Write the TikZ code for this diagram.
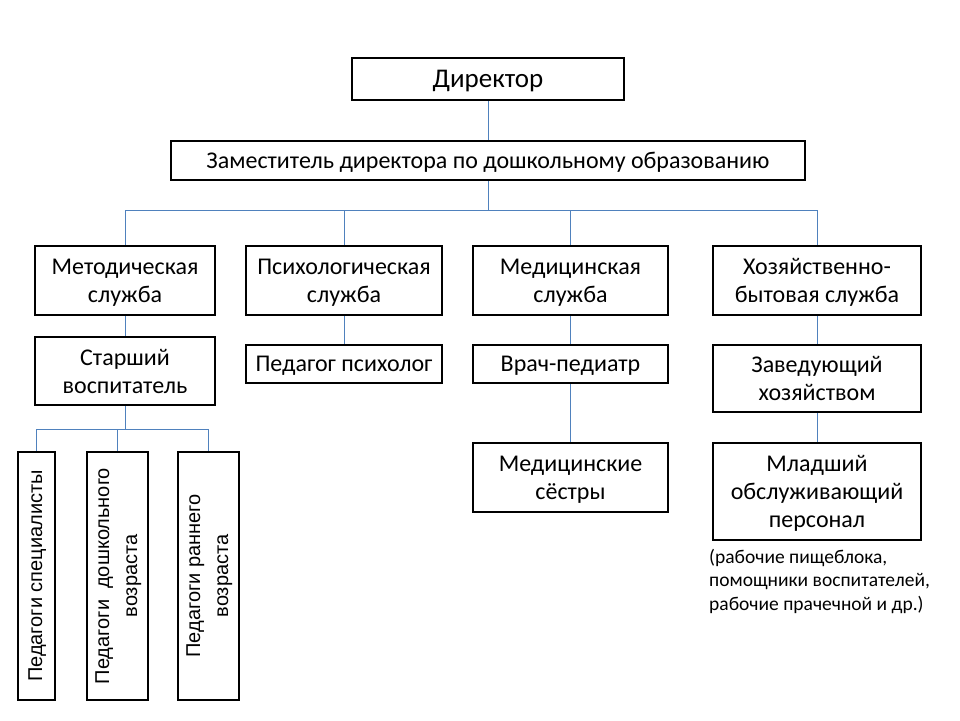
\documentclass[tikz,border=0pt]{standalone}
\usepackage{fontspec}
\setmainfont{Carlito}
\newfontfamily\arialfont{Liberation Sans}
\usepackage{graphicx}
\usetikzlibrary{positioning}
\definecolor{linkblue}{RGB}{79,129,189}
\tikzset{
  orgbox/.style={draw=black,line width=2.6pt,inner sep=0pt,align=center,text depth=0pt,
    font=\fontsize{24}{28}\selectfont},
  vbox/.style={orgbox,minimum height=248pt,font=\arialfont\fontsize{20}{28}\selectfont},
  link/.style={draw=linkblue,line width=1pt},
  notetext/.style={align=left,anchor=north west,inner sep=0pt,font=\fontsize{19.5}{23.5}\selectfont}
}
\newcommand{\vtext}[1]{\rotatebox{90}{\begin{tabular}{@{}c@{}}#1\end{tabular}}}

\begin{document}
\begin{tikzpicture}[x=1pt,y=-1pt]
  \useasboundingbox (0,0) rectangle (960,720);
  \fill[white] (0,0) rectangle (960,720);
  % top
  \node[orgbox,minimum width=272pt,minimum height=42pt,font=\fontsize{27}{30}\selectfont] (dir) at (488,79) {Директор};
  \node[orgbox,minimum width=634pt,minimum height=39pt] (zam) at (488,160.5) {Заместитель директора по дошкольному образованию};
  % services
  \node[orgbox,minimum width=180pt,minimum height=69pt] (met) at (125,280.5) {Методическая\\служба};
  \node[orgbox,minimum width=196pt,minimum height=69pt] (psy) at (344,280.5) {Психологическая\\служба};
  \node[orgbox,minimum width=195pt,minimum height=69pt] (med) at (570.5,280.5) {Медицинская\\служба};
  \node[orgbox,minimum width=208pt,minimum height=69pt] (hoz) at (817,280.5) {Хозяйственно-\\бытовая служба};
  % staff
  \node[orgbox,minimum width=180pt,minimum height=68pt] (star) at (125,371) {Старший\\воспитатель};
  \node[orgbox,minimum width=196pt,minimum height=38pt] (pedpsy) at (344,364) {Педагог психолог};
  \node[orgbox,minimum width=195pt,minimum height=38pt] (vrach) at (570.5,364) {Врач-педиатр};
  \node[orgbox,minimum width=208pt,minimum height=67pt] (zav) at (817,378.5) {Заведующий\\хозяйством};
  \node[orgbox,minimum width=195pt,minimum height=69pt] (sest) at (570.5,477.5) {Медицинские\\сёстры};
  \node[orgbox,minimum width=208pt,minimum height=97pt] (mlad) at (817,491.5) {Младший\\обслуживающий\\персонал};
  \node[notetext] (note) at (709,549) {(рабочие пищеблока,\\помощники воспитателей,\\рабочие прачечной и др.)};
  % teachers
  \node[vbox,minimum width=37pt] (pspec) at (36.5,576) {\vtext{Педагоги специалисты}};
  \node[vbox,minimum width=61pt] (pdosh) at (117.5,576) {\vtext{Педагоги\ \ дошкольного\\возраста}};
  \node[vbox,minimum width=61pt] (pran) at (208.5,576) {\vtext{Педагоги раннего\\возраста}};
  % links
  \draw[link] (dir) -- (zam);
  \draw[link] (zam.south) -- ++(0,29) -| (met.north);
  \draw[link] (zam.south) -- ++(0,29) -| (psy.north);
  \draw[link] (zam.south) -- ++(0,29) -| (med.north);
  \draw[link] (zam.south) -- ++(0,29) -| (hoz.north);
  \draw[link] (met) -- (star);
  \draw[link] (psy) -- (pedpsy);
  \draw[link] (med) -- (vrach);
  \draw[link] (hoz) -- (zav);
  \draw[link] (vrach) -- (sest);
  \draw[link] (zav) -- (mlad);
  \draw[link] (star.south) -- ++(0,23) -| (pspec.north);
  \draw[link] (star.south) -- ++(0,23) -| (pdosh.north);
  \draw[link] (star.south) -- ++(0,23) -| (pran.north);
\end{tikzpicture}
\end{document}
